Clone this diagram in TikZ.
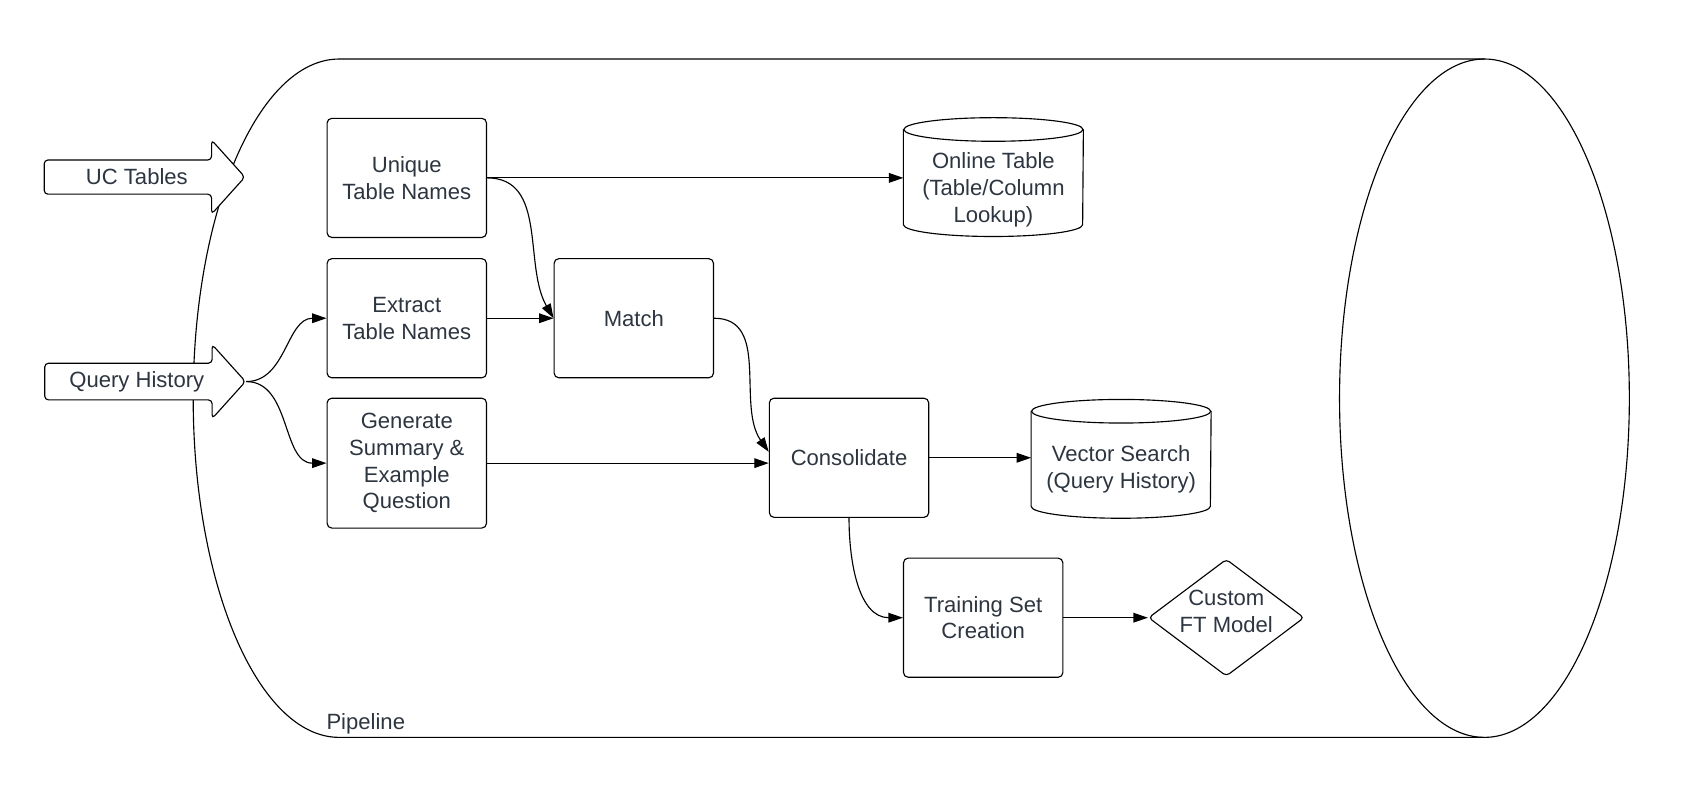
\documentclass[tikz,border=0pt]{standalone}
\usepackage{fontspec}
\setmainfont{Liberation Sans}
\usepackage{tikz}
\usetikzlibrary{shapes.geometric,shapes.arrows,arrows.meta}
\definecolor{inkgray}{HTML}{2D3540}

\begin{document}
\begin{tikzpicture}[
  font=\fontsize{11.7}{14.2}\selectfont,
  box/.style={draw, fill=white, rounded corners=2.5pt, minimum width=2.97cm, minimum height=2.22cm, align=center, text=inkgray, line width=0.6pt},
  store/.style={minimum width=3.34cm, minimum height=2.2cm, inner sep=0pt},
  txt/.style={align=center, text=inkgray},
  feed/.style={single arrow, draw, fill=white, rounded corners=2pt, minimum height=3.74cm, minimum width=1.38cm, single arrow head extend=0.325cm, single arrow tip angle=96, single arrow head indent=0cm, text=inkgray, line width=0.6pt},
  flow/.style={->, line width=0.6pt},
  >={Triangle[length=0.27cm,width=0.18cm]}
]
\useasboundingbox (0,0) rectangle (31.36,14.96);

% pipeline
\draw[line width=0.6pt] (27.66,13.86) -- (6.32,13.86) arc[start angle=90, end angle=270, x radius=2.72cm, y radius=6.32cm] -- (27.66,1.22);
\draw[line width=0.6pt] (27.66,7.54) ellipse[x radius=2.70cm, y radius=6.32cm];
\node[txt, anchor=west] (pipeline) at (5.96,1.48) {Pipeline};

% inputs
\node[feed] (uc) at (2.55,11.66) {UC Tables};
\node[feed] (query) at (2.55,7.85) {Query History};

% steps
\node[box] (unique) at (7.58,11.645) {Unique\\Table Names};
\node[box] (extract) at (7.58,9.03) {Extract\\Table Names};
\node[box, minimum height=2.42cm] (generate) at (7.58,6.33) {Generate\\Summary \&\\Example\\Question};
\node[box] (match) at (11.81,9.03) {Match};
\node[box] (consolidate) at (15.82,6.43) {Consolidate};
\node[box] (training) at (18.32,3.45) {Training Set\\Creation};

% stores
\node[store] (online) at (18.51,11.66) {};
\draw[line width=0.6pt] ([yshift=-0.22cm]online.north) ellipse[x radius=1.67cm, y radius=0.22cm];
\draw[line width=0.6pt] ([yshift=-0.22cm]online.north west) -- ([yshift=0.22cm]online.south west) arc[start angle=180, end angle=360, x radius=1.67cm, y radius=0.22cm] -- ([yshift=-0.22cm]online.north east);
\node[txt] (online text) at (18.51,11.42) {Online Table\\(Table/Column\\Lookup)};

\node[store] (vector) at (20.89,6.41) {};
\draw[line width=0.6pt] ([yshift=-0.22cm]vector.north) ellipse[x radius=1.67cm, y radius=0.22cm];
\draw[line width=0.6pt] ([yshift=-0.22cm]vector.north west) -- ([yshift=0.22cm]vector.south west) arc[start angle=180, end angle=360, x radius=1.67cm, y radius=0.22cm] -- ([yshift=-0.22cm]vector.north east);
\node[txt] (vector text) at (20.89,6.21) {Vector Search\\(Query History)};

% model
\node[diamond, draw, line width=0.6pt, rounded corners=2pt, aspect=1.33, minimum width=2.9cm, minimum height=2.18cm, inner sep=0pt] (custom) at (22.85,3.45) {};
\node[txt] (custom text) at (22.85,3.57) {Custom\\FT Model};

% flows
\draw[flow] (unique.east) -- (unique.east -| online.west);
\draw[flow] (unique.east) to[out=0,in=120] (match.west);
\draw[flow] (extract) -- (match);
\draw[flow] (query.tip) to[out=0,in=180] (extract.west);
\draw[flow] (query.tip) to[out=0,in=180] (generate.west);
\draw[flow] (match.east) to[out=0,in=125] ([yshift=0.11cm]consolidate.west);
\draw[flow] (generate.east) -- (generate.east -| consolidate.west);
\draw[flow] (consolidate.east) -- (consolidate.east -| vector.west);
\draw[flow] (consolidate.south) to[out=-90,in=180] (training.west);
\draw[flow] (training) -- (custom);
\end{tikzpicture}
\end{document}
